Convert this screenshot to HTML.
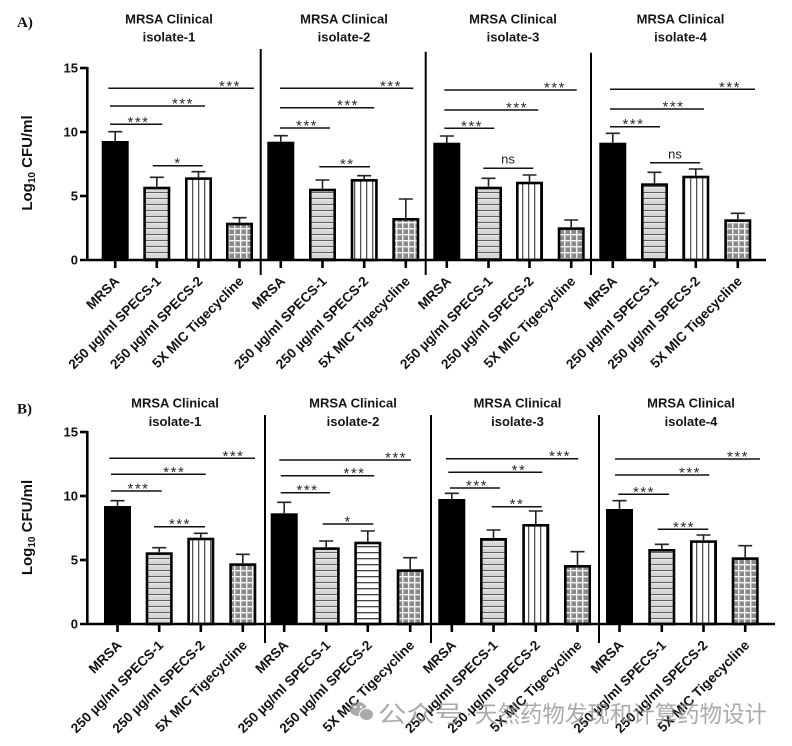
<!DOCTYPE html>
<html><head><meta charset="utf-8"><style>
html,body{margin:0;padding:0;background:#fff;}
svg{display:block;}
.t{font-family:"Liberation Sans",Arial,sans-serif;font-weight:bold;font-size:13px;fill:#111;}
.ti{font-family:"Liberation Sans",Arial,sans-serif;font-weight:bold;font-size:13px;fill:#151515;text-anchor:middle;}
.yl{font-family:"Liberation Sans",Arial,sans-serif;font-weight:bold;font-size:15px;fill:#111;}
.st{font-family:"Liberation Sans",Arial,sans-serif;font-size:15px;fill:#1f2740;text-anchor:middle;letter-spacing:1.5px;}
.ns{font-family:"Liberation Sans",Arial,sans-serif;font-size:13px;fill:#222;text-anchor:middle;}
.pl{font-family:"Liberation Serif",serif;font-weight:bold;font-size:15px;fill:#111;}
.xl{font-family:"Liberation Sans",Arial,sans-serif;font-weight:bold;font-size:13.6px;fill:#111;text-anchor:end;}
.ax{stroke:#000;stroke-width:2.6;fill:none;}
.dv{stroke:#000;stroke-width:2;fill:none;}
.eb{stroke:#222;stroke-width:1.6;fill:none;}
.sl{stroke:#111;stroke-width:1.5;fill:none;}
.pb{stroke:#000;stroke-width:2.6;}
</style></head><body>
<svg width="792" height="746" viewBox="0 0 792 746" xmlns="http://www.w3.org/2000/svg">
<defs>
<pattern id="hs" width="6" height="6" patternUnits="userSpaceOnUse">
<rect width="6" height="6" fill="#d6d6d6"/><rect y="0" width="6" height="1.2" fill="#5e5e5e"/><rect y="1.2" width="6" height="1" fill="#f4f4f4"/>
</pattern>
<pattern id="hw" width="6" height="6" patternUnits="userSpaceOnUse">
<rect width="6" height="6" fill="#fff"/><rect y="0" width="6" height="1.3" fill="#444"/>
</pattern>
<pattern id="vs" width="6" height="6" patternUnits="userSpaceOnUse">
<rect width="6" height="6" fill="#fff"/><rect x="0" width="1.3" height="6" fill="#555"/>
</pattern>
<pattern id="ck" width="6" height="6" patternUnits="userSpaceOnUse">
<rect width="6" height="6" fill="#8a8a8a"/><rect x="0" width="1.4" height="6" fill="#f4f4f4"/><rect y="0" width="6" height="1.4" fill="#f4f4f4"/>
</pattern>
</defs>

<!-- ================= PANEL A ================= -->
<text class="pl" x="17" y="27">A)</text>
<text class="yl" transform="translate(32,163) rotate(-90)" text-anchor="middle">Log<tspan font-size="10" dy="3">10</tspan><tspan dy="-3"> CFU/ml</tspan></text>

<text class="ti" x="169" y="23.3">MRSA Clinical</text><text class="ti" x="169" y="41.7">isolate-1</text>
<text class="ti" x="344" y="23.3">MRSA Clinical</text><text class="ti" x="344" y="41.7">isolate-2</text>
<text class="ti" x="513" y="23.3">MRSA Clinical</text><text class="ti" x="513" y="41.7">isolate-3</text>
<text class="ti" x="680.5" y="23.3">MRSA Clinical</text><text class="ti" x="680.5" y="41.7">isolate-4</text>

<line class="ax" x1="87.3" y1="67" x2="87.3" y2="261"/>
<line class="ax" x1="80" y1="68" x2="87.3" y2="68"/>
<line class="ax" x1="80" y1="132" x2="87.3" y2="132"/>
<line class="ax" x1="80" y1="196" x2="87.3" y2="196"/>
<text class="t" x="78" y="72.7" text-anchor="end">15</text>
<text class="t" x="78" y="136.7" text-anchor="end">10</text>
<text class="t" x="78" y="200.7" text-anchor="end">5</text>
<text class="t" x="78" y="264.7" text-anchor="end">0</text>

<rect x="101.7" y="141" width="27" height="119" fill="#000"/>
<rect class="pb" x="144.6" y="188" width="24.4" height="72" fill="url(#hs)"/>
<rect class="pb" x="186.3" y="178.6" width="24.4" height="81.4" fill="url(#vs)"/>
<rect class="pb" x="227.3" y="224" width="24.4" height="36" fill="url(#ck)"/>

<rect x="267.3" y="141.7" width="27" height="118.3" fill="#000"/>
<rect class="pb" x="310.3" y="190" width="24.4" height="70" fill="url(#hs)"/>
<rect class="pb" x="352" y="180.3" width="24.4" height="79.7" fill="url(#vs)"/>
<rect class="pb" x="393.6" y="219.3" width="24.4" height="40.7" fill="url(#ck)"/>

<rect x="433.3" y="142.7" width="27" height="117.3" fill="#000"/>
<rect class="pb" x="476.3" y="188" width="24.4" height="72" fill="url(#hs)"/>
<rect class="pb" x="517.3" y="183" width="24.4" height="77" fill="url(#vs)"/>
<rect class="pb" x="559" y="228.6" width="24.4" height="31.4" fill="url(#ck)"/>

<rect x="599.3" y="142.7" width="27" height="117.3" fill="#000"/>
<rect class="pb" x="642.3" y="184.6" width="24.4" height="75.4" fill="url(#hs)"/>
<rect class="pb" x="683.6" y="177" width="24.4" height="83" fill="url(#vs)"/>
<rect class="pb" x="725.6" y="220.6" width="24.4" height="39.4" fill="url(#ck)"/>

<path class="eb" d="M115.2 141V131.7M108.2 131.7H122.2 M156.8 186.7V177.3M149.8 177.3H163.8 M198.5 177.3V171.7M191.5 171.7H205.5 M239.5 222.7V217.7M232.5 217.7H246.5"/>
<path class="eb" d="M280.8 141.7V135.7M273.8 135.7H287.8 M322.5 188.7V180M315.5 180H329.5 M364.2 179V175.7M357.2 175.7H371.2 M405.8 218V199M398.8 199H412.8"/>
<path class="eb" d="M446.8 142.7V136M439.8 136H453.8 M488.5 186.7V178.3M481.5 178.3H495.5 M529.5 181.7V175M522.5 175H536.5 M571.2 227.3V220M564.2 220H578.2"/>
<path class="eb" d="M612.8 142.7V133.3M605.8 133.3H619.8 M654.5 183.3V172.3M647.5 172.3H661.5 M695.8 175.7V169M688.8 169H702.8 M737.8 219.3V213.3M730.8 213.3H744.8"/>

<line class="ax" x1="80" y1="260" x2="766" y2="260"/>
<line class="dv" x1="260.7" y1="49" x2="260.7" y2="275"/>
<line class="dv" x1="425.7" y1="51.7" x2="425.7" y2="275"/>
<line class="dv" x1="591" y1="52.7" x2="591" y2="275"/>
<path class="ax" d="M115.2 260V268M156.8 260V268M198.5 260V268M239.5 260V268M280.8 260V268M322.5 260V268M364.2 260V268M405.8 260V268M446.8 260V268M488.5 260V268M529.5 260V268M571.2 260V268M612.8 260V268M654.5 260V268M695.8 260V268M737.8 260V268"/>

<path class="sl" d="M110 124.3H162.3M110 106H205M108.3 88.3H254M152.7 165.7H202.7"/>
<text class="st" x="138.5" y="126.8">***</text><text class="st" x="183" y="108.5">***</text><text class="st" x="230" y="90.8">***</text><text class="st" x="178" y="168.2">*</text>
<path class="sl" d="M280 128H330M280 107.7H374.3M280 88.3H413.3M319.3 166.7H370"/>
<text class="st" x="307" y="130.5">***</text><text class="st" x="348" y="110.2">***</text><text class="st" x="391" y="90.8">***</text><text class="st" x="347.3" y="169.2">**</text>
<path class="sl" d="M444.3 128.3H494.3M444.3 110H538.3M444.3 90H576.7M483.3 168.3H533.3"/>
<text class="st" x="472" y="130.8">***</text><text class="st" x="517" y="112.5">***</text><text class="st" x="555" y="92.5">***</text><text class="ns" x="508" y="163.3">ns</text>
<path class="sl" d="M610 126.7H660M610 109H704M610 89.3H755M650 162.7H700"/>
<text class="st" x="633.5" y="129.2">***</text><text class="st" x="673.5" y="111.5">***</text><text class="st" x="730" y="91.8">***</text><text class="ns" x="675" y="158.3">ns</text>

<g class="xl">
<text transform="translate(120.2,282) rotate(-45)">MRSA</text>
<text transform="translate(161.8,282) rotate(-45)">250 µg/ml SPECS-1</text>
<text transform="translate(203.5,282) rotate(-45)">250 µg/ml SPECS-2</text>
<text transform="translate(244.5,282) rotate(-45)">5X MIC Tigecycline</text>
<text transform="translate(285.8,282) rotate(-45)">MRSA</text>
<text transform="translate(327.5,282) rotate(-45)">250 µg/ml SPECS-1</text>
<text transform="translate(369.2,282) rotate(-45)">250 µg/ml SPECS-2</text>
<text transform="translate(410.8,282) rotate(-45)">5X MIC Tigecycline</text>
<text transform="translate(451.8,282) rotate(-45)">MRSA</text>
<text transform="translate(493.5,282) rotate(-45)">250 µg/ml SPECS-1</text>
<text transform="translate(534.5,282) rotate(-45)">250 µg/ml SPECS-2</text>
<text transform="translate(576.2,282) rotate(-45)">5X MIC Tigecycline</text>
<text transform="translate(617.8,282) rotate(-45)">MRSA</text>
<text transform="translate(659.5,282) rotate(-45)">250 µg/ml SPECS-1</text>
<text transform="translate(700.8,282) rotate(-45)">250 µg/ml SPECS-2</text>
<text transform="translate(742.8,282) rotate(-45)">5X MIC Tigecycline</text>
</g>

<!-- ================= PANEL B ================= -->
<text class="pl" x="17" y="413.3">B)</text>
<text class="yl" transform="translate(32,527.5) rotate(-90)" text-anchor="middle">Log<tspan font-size="10" dy="3">10</tspan><tspan dy="-3"> CFU/ml</tspan></text>

<text class="ti" x="175" y="407.5">MRSA Clinical</text><text class="ti" x="175" y="426">isolate-1</text>
<text class="ti" x="353" y="407.5">MRSA Clinical</text><text class="ti" x="353" y="426">isolate-2</text>
<text class="ti" x="517.5" y="407.5">MRSA Clinical</text><text class="ti" x="517.5" y="426">isolate-3</text>
<text class="ti" x="691" y="407.5">MRSA Clinical</text><text class="ti" x="691" y="426">isolate-4</text>

<line class="ax" x1="87.3" y1="431" x2="87.3" y2="625"/>
<line class="ax" x1="80" y1="432" x2="87.3" y2="432"/>
<line class="ax" x1="80" y1="496" x2="87.3" y2="496"/>
<line class="ax" x1="80" y1="560" x2="87.3" y2="560"/>
<text class="t" x="78" y="436.7" text-anchor="end">15</text>
<text class="t" x="78" y="500.7" text-anchor="end">10</text>
<text class="t" x="78" y="564.7" text-anchor="end">5</text>
<text class="t" x="78" y="628.7" text-anchor="end">0</text>

<rect x="104" y="506" width="27" height="118" fill="#000"/>
<rect class="pb" x="147" y="553.6" width="24.4" height="70.4" fill="url(#hs)"/>
<rect class="pb" x="188.6" y="539" width="24.4" height="85" fill="url(#vs)"/>
<rect class="pb" x="230.6" y="564.6" width="24.4" height="59.4" fill="url(#ck)"/>

<rect x="270.7" y="513.3" width="27" height="110.7" fill="#000"/>
<rect class="pb" x="314" y="548.6" width="24.4" height="75.4" fill="url(#hs)"/>
<rect class="pb" x="355.6" y="543" width="24.4" height="81" fill="url(#hw)"/>
<rect class="pb" x="398" y="570.6" width="24.4" height="53.4" fill="url(#ck)"/>

<rect x="438.3" y="499" width="27" height="125" fill="#000"/>
<rect class="pb" x="481.3" y="539.3" width="24.4" height="84.7" fill="url(#hs)"/>
<rect class="pb" x="523.6" y="525.3" width="24.4" height="98.7" fill="url(#vs)"/>
<rect class="pb" x="565.3" y="566.3" width="24.4" height="57.7" fill="url(#ck)"/>

<rect x="606" y="509" width="27" height="115" fill="#000"/>
<rect class="pb" x="649.6" y="550.3" width="24.4" height="73.7" fill="url(#hs)"/>
<rect class="pb" x="691.3" y="541.6" width="24.4" height="82.4" fill="url(#vs)"/>
<rect class="pb" x="733" y="558.6" width="24.4" height="65.4" fill="url(#ck)"/>

<path class="eb" d="M117.5 506V500.7M110.5 500.7H124.5 M159.2 552.3V547.7M152.2 547.7H166.2 M200.8 537.7V533.3M193.8 533.3H207.8 M242.8 563.3V554.3M235.8 554.3H249.8"/>
<path class="eb" d="M284.2 513.3V502.3M277.2 502.3H291.2 M326.2 547.3V541M319.2 541H333.2 M367.8 541.7V531M360.8 531H374.8 M410.2 569.3V557.7M403.2 557.7H417.2"/>
<path class="eb" d="M451.8 499V493.3M444.8 493.3H458.8 M493.5 538V530M486.5 530H500.5 M535.8 524V511M528.8 511H542.8 M577.5 565V551.7M570.5 551.7H584.5"/>
<path class="eb" d="M619.5 509V500.7M612.5 500.7H626.5 M661.8 549V544.3M654.8 544.3H668.8 M703.5 540.3V535M696.5 535H710.5 M745.2 557.3V545.7M738.2 545.7H752.2"/>

<line class="ax" x1="80" y1="624" x2="775" y2="624"/>
<line class="dv" x1="265" y1="415" x2="265" y2="643"/>
<line class="dv" x1="431" y1="415" x2="431" y2="643"/>
<line class="dv" x1="599" y1="415" x2="599" y2="643"/>
<path class="ax" d="M117.5 624V632M159.2 624V632M200.8 624V632M242.8 624V632M284.2 624V632M326.2 624V632M367.8 624V632M410.2 624V632M451.8 624V632M493.5 624V632M535.8 624V632M577.5 624V632M619.5 624V632M661.8 624V632M703.5 624V632M745.2 624V632"/>

<path class="sl" d="M111 491H161.7M111 474.3H205.7M109.3 458.3H255M154 526.7H205"/>
<text class="st" x="138.5" y="493.5">***</text><text class="st" x="174.3" y="476.8">***</text><text class="st" x="233.5" y="460.8">***</text><text class="st" x="180" y="529.2">***</text>
<path class="sl" d="M280.7 492.7H330M280.7 475.7H374.3M279.3 460H411M322.7 524H373.3"/>
<text class="st" x="307.5" y="495.2">***</text><text class="st" x="354.5" y="478.2">***</text><text class="st" x="396" y="462.5">***</text><text class="st" x="348" y="526.5">*</text>
<path class="sl" d="M450 488H500M448.3 472.3H542.3M446 458.7H578.3M491.7 506.7H541.7"/>
<text class="st" x="477" y="490.5">***</text><text class="st" x="519" y="474.8">**</text><text class="st" x="560" y="461.2">***</text><text class="st" x="517" y="509.2">**</text>
<path class="sl" d="M618.3 494.3H669M615 475H709.3M615 459H760M657.7 529.3H708.3"/>
<text class="st" x="644" y="496.8">***</text><text class="st" x="690" y="477.5">***</text><text class="st" x="738" y="461.5">***</text><text class="st" x="684" y="531.8">***</text>

<g class="xl">
<text transform="translate(122.5,646) rotate(-45)">MRSA</text>
<text transform="translate(164.2,646) rotate(-45)">250 µg/ml SPECS-1</text>
<text transform="translate(205.8,646) rotate(-45)">250 µg/ml SPECS-2</text>
<text transform="translate(247.8,646) rotate(-45)">5X MIC Tigecycline</text>
<text transform="translate(289.2,646) rotate(-45)">MRSA</text>
<text transform="translate(331.2,646) rotate(-45)">250 µg/ml SPECS-1</text>
<text transform="translate(372.8,646) rotate(-45)">250 µg/ml SPECS-2</text>
<text transform="translate(415.2,646) rotate(-45)">5X MIC Tigecycline</text>
<text transform="translate(456.8,646) rotate(-45)">MRSA</text>
<text transform="translate(498.5,646) rotate(-45)">250 µg/ml SPECS-1</text>
<text transform="translate(540.8,646) rotate(-45)">250 µg/ml SPECS-2</text>
<text transform="translate(582.5,646) rotate(-45)">5X MIC Tigecycline</text>
<text transform="translate(624.5,646) rotate(-45)">MRSA</text>
<text transform="translate(666.8,646) rotate(-45)">250 µg/ml SPECS-1</text>
<text transform="translate(708.5,646) rotate(-45)">250 µg/ml SPECS-2</text>
<text transform="translate(750.2,646) rotate(-45)">5X MIC Tigecycline</text>
</g>

<!-- watermark -->
<g opacity="0.75">
<ellipse cx="358" cy="709" rx="8.5" ry="7" fill="#8e8e8e"/>
<ellipse cx="366.5" cy="714.5" rx="7" ry="6" fill="#8e8e8e" stroke="#fff" stroke-width="1"/>
<circle cx="355" cy="707" r="1.2" fill="#fff"/><circle cx="361" cy="707" r="1.2" fill="#fff"/>
<text x="378" y="722" font-family="'Liberation Sans','Noto Sans CJK SC',sans-serif" font-size="23" fill="#8e8e8e" textLength="85" lengthAdjust="spacingAndGlyphs">公众号</text>
<text x="469" y="720" font-family="'Liberation Sans','Noto Sans CJK SC',sans-serif" font-size="20" fill="#8e8e8e" text-anchor="middle">·</text>
<text x="475" y="722" font-family="'Liberation Sans','Noto Sans CJK SC',sans-serif" font-size="23" fill="#8e8e8e" textLength="292" lengthAdjust="spacingAndGlyphs">天然药物发现和计算药物设计</text>
</g>
</svg>
</body></html>
